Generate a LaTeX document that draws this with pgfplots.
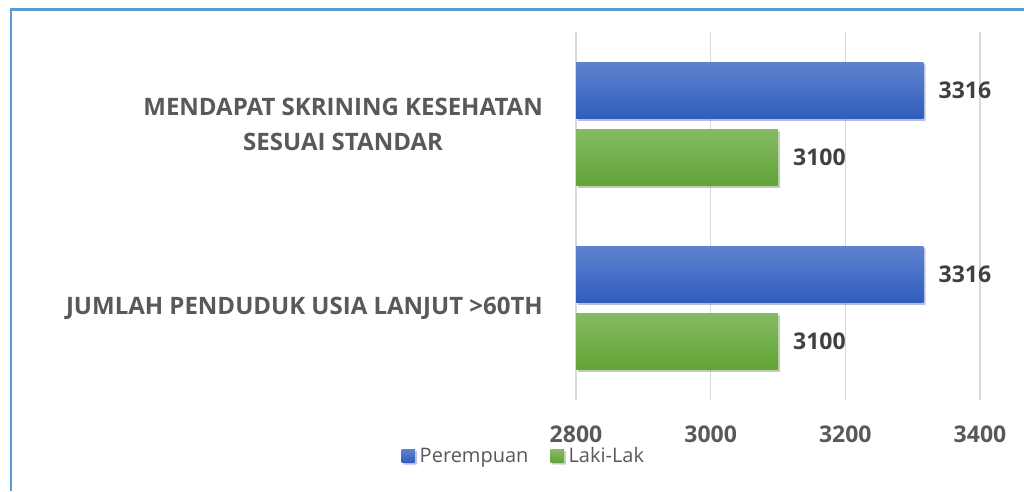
\documentclass[border=0pt]{standalone}
\usepackage{pgfplots}
\pgfplotsset{compat=1.18}
\usepackage{fontspec}
\setmainfont{Open Sans}
\usetikzlibrary{shadows}
\definecolor{framec}{HTML}{5B9BD5}
\definecolor{gridc}{HTML}{D9D9D9}
\definecolor{textc}{HTML}{595959}
\definecolor{valc}{HTML}{404040}
\definecolor{blueT}{HTML}{5F82CF}
\definecolor{blueB}{HTML}{2F5EBD}
\definecolor{greenT}{HTML}{85BB62}
\definecolor{greenB}{HTML}{62A437}
\pgfplotstableread{
cat perempuan lakilaki
0 3316 3100
1 3316 3100
}\datatable
\begin{document}
\begin{tikzpicture}[x=1pt,y=1pt]
\path[use as bounding box] (0,0) rectangle (1024,-491);
\fill[white] (0,0) rectangle (1024,-491);
\draw[framec, line width=2.5pt] (11,-491) -- (11,-9.5) -- (1024,-9.5);
\begin{axis}[
  at={(576pt,-400pt)}, anchor=south west,
  width=404pt, height=368pt, scale only axis,
  xbar, xmin=2800, xmax=3400, ymin=-0.5, ymax=1.5,
  bar width=56pt,
  axis line style={draw=none},
  tick style={draw=none},
  major tick length=0pt,
  xtick={2800,3000,3200,3400},
  xmajorgrids, grid style={color=gridc, line width=1.2pt},
  ytick={0,1},
  yticklabels={JUMLAH PENDUDUK USIA LANJUT >60TH, {MENDAPAT SKRINING KESEHATAN\\SESUAI STANDAR}},
  yticklabel style={align=center, inner sep=0pt, xshift=-33pt, text=textc,
    font=\fontsize{24}{35}\selectfont\bfseries},
  xticklabel style={inner sep=0pt, yshift=-26pt, text=textc,
    font=\fontsize{23}{23}\selectfont\bfseries},
  /pgf/number format/assume math mode=true,
  /pgf/number format/1000 sep={},
  nodes near coords,
  nodes near coords style={anchor=west, inner sep=0pt, xshift=15pt, text=valc,
    font=\fontsize{23}{23}\selectfont\bfseries},
  legend columns=2,
  legend style={at={(-0.129,-0.152)}, anchor=center, draw=none, fill=none,
    font=\fontsize{20}{20}\selectfont, text=textc, inner sep=0pt,
    /tikz/every odd column/.append style={column sep=3pt},
    /tikz/every even column/.append style={column sep=20pt}},
  legend image code/.code={\fill[#1,draw=none] (0pt,-6.5pt) rectangle (13pt,6.5pt);},
]
\addplot[draw=none, top color=blueT, bottom color=blueB, bar shift=33.5pt,
  drop shadow={shadow xshift=2pt, shadow yshift=-2pt, opacity=0.25}]
  table[x=perempuan, y=cat, restrict expr to domain={\thisrow{cat}}{0:0}] {\datatable};
\addplot[draw=none, top color=greenT, bottom color=greenB, bar shift=-33.5pt,
  drop shadow={shadow xshift=2pt, shadow yshift=-2pt, opacity=0.25}]
  table[x=lakilaki, y=cat, restrict expr to domain={\thisrow{cat}}{0:0}] {\datatable};
\addplot[forget plot, draw=none, top color=blueT, bottom color=blueB, bar shift=33.5pt,
  drop shadow={shadow xshift=2pt, shadow yshift=-2pt, opacity=0.25}]
  table[x=perempuan, y=cat, restrict expr to domain={\thisrow{cat}}{1:1}] {\datatable};
\addplot[forget plot, draw=none, top color=greenT, bottom color=greenB, bar shift=-33.5pt,
  drop shadow={shadow xshift=2pt, shadow yshift=-2pt, opacity=0.25}]
  table[x=lakilaki, y=cat, restrict expr to domain={\thisrow{cat}}{1:1}] {\datatable};
\legend{Perempuan, Laki-Lak}
\end{axis}
\end{tikzpicture}
\end{document}
